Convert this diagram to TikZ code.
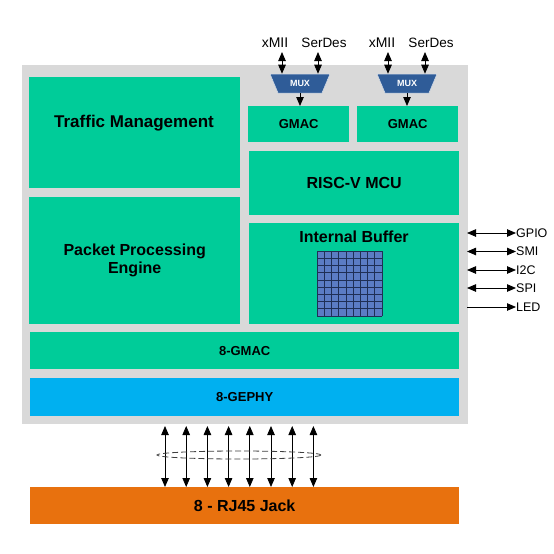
\documentclass[tikz,border=0pt]{standalone}
\usepackage{fontspec}
\setmainfont{Liberation Sans}
\usetikzlibrary{shapes.geometric,arrows.meta}
\definecolor{grn}{HTML}{00CC99}
\definecolor{chipgray}{HTML}{D9D9D9}
\definecolor{phyblue}{HTML}{00B0F0}
\definecolor{rjorange}{HTML}{E8710E}
\definecolor{muxblue}{HTML}{2F5C98}
\definecolor{cellblue}{HTML}{5B7CC4}
\definecolor{gridline}{HTML}{1F2F55}
\tikzset{
  blk/.style={draw=none, anchor=north west, inner sep=0pt, align=center, font=\bfseries},
  gbox/.style={blk, fill=grn},
  tip/.style={-{Triangle[length=9pt,width=7.5pt]}},
  dtip/.style={{Triangle[length=9pt,width=7.5pt]}-{Triangle[length=9pt,width=7.5pt]}},
  conn/.style={line width=0.8pt, black},
  bigf/.style={font=\bfseries\fontsize{16}{18}\selectfont},
  midf/.style={font=\bfseries\fontsize{13}{15}\selectfont},
  muxs/.style={trapezium, shape border rotate=180, trapezium stretches=true,
    minimum width=60pt, minimum height=19pt, inner sep=0pt, fill=muxblue,
    draw=white!80!muxblue, line width=0.5pt, text=white, font=\bfseries\fontsize{9}{10}\selectfont},
  sig/.style={inner sep=0pt, font=\fontsize{12.5}{14}\selectfont},
}
\begin{document}
\begin{tikzpicture}[x=1pt,y=-1pt]
\useasboundingbox (0,0) rectangle (554,554);
\fill[white] (0,0) rectangle (554,554);
% chip
\node[blk, fill=chipgray, minimum width=446pt, minimum height=359pt] (chip) at (22,65) {};
% left blocks
\node[gbox, minimum width=211pt, minimum height=111pt] (tm) at (29,77) {};
\node[bigf, font=\bfseries\fontsize{17}{19}\selectfont] (tml) at (134,123) {Traffic Management};
\node[gbox, bigf, minimum width=211pt, minimum height=127pt] (ppe) at (29,197) {Packet Processing\\Engine};
% right blocks
\node[gbox, midf, minimum width=101pt, minimum height=36pt] (gm1) at (248,106) {GMAC};
\node[gbox, midf, minimum width=101pt, minimum height=36pt] (gm2) at (357,106) {GMAC};
\node[gbox, bigf, minimum width=210pt, minimum height=64pt] (mcu) at (249,151) {RISC-V MCU};
\node[gbox, minimum width=210pt, minimum height=101pt] (ib) at (249,223) {};
\node[bigf, anchor=center] (ibl) at (354,237) {Internal Buffer};
% grid
\fill[cellblue] (317,251) rectangle (382,316);
\foreach \i in {0,...,9}{
  \draw[gridline, line width=0.7pt] ({317+65*\i/9},251) -- ({317+65*\i/9},316);
  \draw[gridline, line width=0.7pt] (317,{251+65*\i/9}) -- (382,{251+65*\i/9});
}
% bottom bars
\node[gbox, midf, minimum width=429pt, minimum height=37pt] (gmac8) at (30,332) {8-GMAC};
\node[blk, midf, fill=phyblue, minimum width=429pt, minimum height=38pt] (phy) at (30,378) {8-GEPHY};
\node[blk, fill=rjorange, minimum width=429pt, minimum height=37pt, font=\bfseries\fontsize{16}{18}\selectfont] (rj) at (30,487) {8 - RJ45 Jack};
% MUXes
\node[muxs] (mux1) at (300,83.5) {MUX};
\node[muxs] (mux2) at (407,83.5) {MUX};
\node[sig, font=\fontsize{14}{16}\selectfont] (xm1) at (275,43) {xMII};
\node[sig, font=\fontsize{13.5}{16}\selectfont] (sd1) at (324,43) {SerDes};
\node[sig, font=\fontsize{14}{16}\selectfont] (xm2) at (382,43) {xMII};
\node[sig, font=\fontsize{13.5}{16}\selectfont] (sd2) at (431,43) {SerDes};
\coordinate (a1) at (282,52);
\coordinate (a2) at (318,52);
\coordinate (a3) at (388,52);
\coordinate (a4) at (425,52);
\draw[conn,dtip] (a1) -- (a1 |- mux1.north);
\draw[conn,dtip] (a2) -- (a2 |- mux1.north);
\draw[conn,dtip] (a3) -- (a3 |- mux2.north);
\draw[conn,dtip] (a4) -- (a4 |- mux2.north);
\draw[conn,tip] (mux1.south) -- (gm1.north -| mux1.south);
\draw[conn,tip] (mux2.south) -- (gm2.north -| mux2.south);
% side signals
\node[sig, anchor=west] (gpio) at (516,233) {GPIO};
\node[sig, anchor=west] (smi) at (516,251.5) {SMI};
\node[sig, anchor=west] (i2c) at (516,270) {I2C};
\node[sig, anchor=west] (spi) at (516,288) {SPI};
\node[sig, anchor=west] (led) at (516,307) {LED};
\foreach \n/\yy in {gpio/233,smi/251.5,i2c/270,spi/288}{
  \coordinate (s\n) at (467,\yy);
  \draw[conn,dtip] (s\n) -- (\n.west);
}
\coordinate (sled) at (467,307);
\draw[conn,tip] (sled) -- (led.west);
% bottom links
\foreach \i in {0,...,7}{
  \coordinate (t\i) at ({165+21.2*\i},426);
  \draw[conn,dtip] (t\i) -- (t\i |- rj.north);
}
\draw[dash pattern=on 6pt off 3pt, line width=0.8pt, black!75] (239,455) ellipse [x radius=82, y radius=4];
\end{tikzpicture}
\end{document}
